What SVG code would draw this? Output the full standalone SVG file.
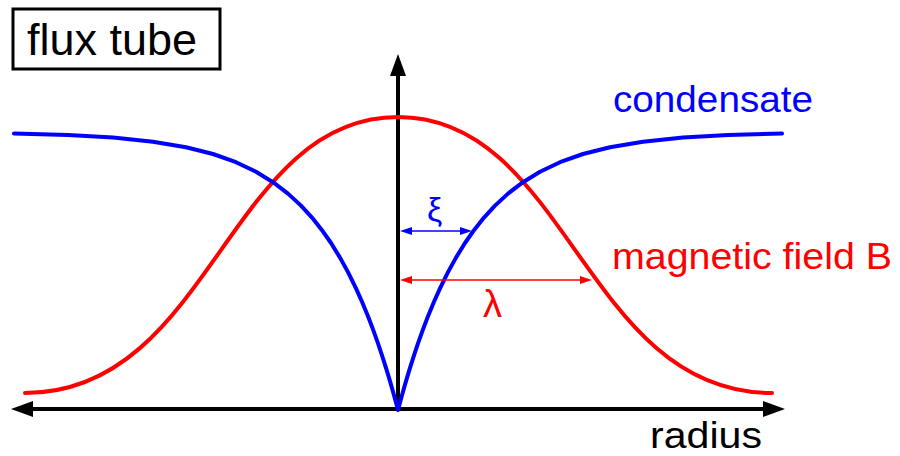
<svg xmlns="http://www.w3.org/2000/svg" width="900" height="456" viewBox="0 0 900 456">
<style>
text{font-family:"Liberation Sans",Arial,Helvetica,sans-serif}
.axis{stroke:#000;stroke-width:4;fill:none}
.blue{stroke:#0000ff;stroke-width:4;fill:none;stroke-linecap:round;stroke-linejoin:round}
.red{stroke:#ff0000;stroke-width:4;fill:none;stroke-linecap:round}
</style>
<defs>
<marker id="ah" viewBox="0 0 22 16" refX="0" refY="8" markerWidth="22" markerHeight="16" markerUnits="userSpaceOnUse" orient="auto-start-reverse"><path d="M0,0 L22,8 L0,16 z" fill="#000"/></marker>
<marker id="ahb" viewBox="0 0 12 8" refX="0" refY="4" markerWidth="12" markerHeight="8" markerUnits="userSpaceOnUse" orient="auto-start-reverse"><path d="M0,0 L12,4 L0,8 z" fill="#0000ff"/></marker>
<marker id="ahr" viewBox="0 0 12 8" refX="0" refY="4" markerWidth="12" markerHeight="8" markerUnits="userSpaceOnUse" orient="auto-start-reverse"><path d="M0,0 L12,4 L0,8 z" fill="#ff0000"/></marker>
</defs>
<g id="title">
<rect x="13" y="9" width="207" height="60" fill="#fff" stroke="#000" stroke-width="3"/>
<text x="27" y="55" font-size="45" fill="#000">flux tube</text>
</g>
<g id="axes">
<line class="axis" x1="33" y1="409" x2="763" y2="409" marker-start="url(#ah)" marker-end="url(#ah)"/>
<line class="axis" x1="398" y1="411" x2="398" y2="76" marker-end="url(#ah)"/>
<text x="650" y="448" font-size="37" fill="#000" textLength="112" lengthAdjust="spacingAndGlyphs">radius</text>
</g>
<g id="field">
<path class="red" d="M25,393 C211,393 228,117 398,117 C568,117 585,393 772,393"/>
<text x="612" y="269" font-size="37" fill="#ff0000" textLength="280" lengthAdjust="spacingAndGlyphs">magnetic field B</text>
</g>
<g id="condensate">
<path class="blue" d="M14,133.4 L68,135 L113,137.6 L153,141.7 L186,147.2 L213,154 L236,162.2 L256,171.8 L273,182.2 L288,193.6 L301,205.6 L312,217.6 L322,230.2 L331,243 L340,257.6 L348,272.1 L356,288.4 L362,301.8 L368,316.3 L373,329.4 L378,343.4 L382,355.3 L386,367.9 L390,381.1 L394,395.2 L398,410 L402,395.2 L406,381.1 L410,367.9 L414,355.3 L418,343.4 L423,329.4 L428,316.3 L434,301.8 L440,288.4 L448,272.1 L456,257.6 L465,243 L474,230.2 L484,217.6 L495,205.6 L508,193.6 L523,182.2 L540,171.8 L560,162.2 L583,154 L610,147.2 L643,141.7 L683,137.6 L728,135 L782,133.4"/>
<text x="613" y="112" font-size="37" fill="#0000ff" textLength="200" lengthAdjust="spacingAndGlyphs">condensate</text>
</g>
<g id="connectors">
<line x1="412" y1="231" x2="460" y2="231" stroke="#0000ff" stroke-width="1.5" marker-start="url(#ahb)" marker-end="url(#ahb)"/>
<line x1="412" y1="280" x2="580" y2="280" stroke="#ff0000" stroke-width="1.5" marker-start="url(#ahr)" marker-end="url(#ahr)"/>
</g>
<g id="labels">
<text x="427" y="221" font-size="34" fill="#0000ff">ξ</text>
<text x="483" y="317" font-size="38" fill="#ff0000">λ</text>
</g>
</svg>
